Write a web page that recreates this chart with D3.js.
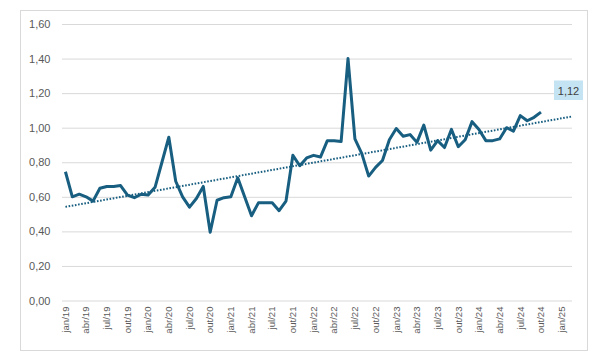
<!DOCTYPE html>
<html><head><meta charset="utf-8">
<script src="https://cdn.jsdelivr.net/npm/d3@7"></script>
<style>body{margin:0;background:#fff}svg{display:block}</style>
</head><body>
<svg id="c" width="608" height="360"></svg>
<script>
// ---- data ----
const monthNames = ["jan","fev","mar","abr","mai","jun","jul","ago","set","out","nov","dez"];
const years = ["19","20","21","22","23","24","25"];
// category slots: jan/19 .. fev/25
const categories = [];
years.forEach(y => monthNames.forEach(m => categories.push(m + "/" + y)));
categories.splice(74);
// monthly values jan/19 .. out/24
const values = [
  0.745, 0.600, 0.615, 0.600, 0.575, 0.650, 0.660, 0.660, 0.665, 0.610, 0.595, 0.615,
  0.610, 0.655, 0.800, 0.945, 0.690, 0.600, 0.540, 0.590, 0.660, 0.395, 0.580, 0.595,
  0.600, 0.710, 0.600, 0.490, 0.565, 0.565, 0.565, 0.520, 0.575, 0.840, 0.780, 0.825,
  0.840, 0.830, 0.925, 0.925, 0.920, 1.400, 0.935, 0.850, 0.720, 0.770, 0.810, 0.930,
  0.995, 0.950, 0.960, 0.915, 1.015, 0.870, 0.925, 0.885, 0.990, 0.890, 0.930, 1.035,
  0.990, 0.925, 0.925, 0.935, 1.000, 0.980, 1.070, 1.040, 1.060, 1.090
];
const tickLabels = ["jan/19","abr/19","jul/19","out/19","jan/20","abr/20","jul/20","out/20",
  "jan/21","abr/21","jul/21","out/21","jan/22","abr/22","jul/22","out/22","jan/23","abr/23",
  "jul/23","out/23","jan/24","abr/24","jul/24","out/24","jan/25"];
const yTicks = [0, 0.2, 0.4, 0.6, 0.8, 1.0, 1.2, 1.4, 1.6];
const calloutText = "1,12";

// ---- layout ----
const svg = d3.select("#c");
const L = 62, R = 572, T = 24, B = 300.5;
const grey = "#595959", gridC = "#d9d9d9", lineC = "#175e80";

svg.append("rect").attr("x", 20.5).attr("y", 10.5).attr("width", 567).attr("height", 340)
  .attr("fill", "#fff").attr("stroke", "#d9d9d9").attr("stroke-width", 1);

const x = d3.scaleBand().domain(categories).range([L, R]).padding(0);
const cx = c => x(c) + x.bandwidth() / 2;
const y = d3.scaleLinear().domain([0, 1.6]).range([B, T]);
const fmt = v => d3.format(".2f")(v).replace(".", ",");

// gridlines + y labels
const yAxis = d3.axisLeft(y).tickValues(yTicks).tickSize(-(R - L)).tickFormat(fmt).tickPadding(12);
const gy = svg.append("g").attr("transform", `translate(${L},0)`).call(yAxis);
gy.select(".domain").remove();
gy.selectAll(".tick line").attr("stroke", gridC).attr("stroke-width", 1);
gy.selectAll(".tick text").attr("fill", grey).attr("font-family", "Liberation Sans, Arial, sans-serif")
  .attr("font-size", 11).attr("x", -11.5);

// x labels
const xAxis = d3.axisBottom(x).tickValues(tickLabels).tickSize(0).tickPadding(0);
const gx = svg.append("g").attr("transform", `translate(0,${B})`).call(xAxis);
gx.select(".domain").remove();
gx.selectAll(".tick text")
  .attr("fill", grey).attr("font-family", "Liberation Sans, Arial, sans-serif").attr("font-size", 9.6)
  .attr("text-anchor", "end").attr("transform", "rotate(-90)")
  .attr("x", -6).attr("y", 0).attr("dy", "0.34em");

// trendline (least squares on the series, extended forward to the plot edge)
const mx = d3.mean(values, (d, i) => i), my = d3.mean(values);
let sxy = 0, sxx = 0;
values.forEach((v, i) => { sxy += (i - mx) * (v - my); sxx += (i - mx) * (i - mx); });
const slope = sxy / sxx, icpt = my - slope * mx;
const step = x.step();
const idxEnd = (R - cx(categories[0])) / step;
svg.append("line")
  .attr("x1", cx(categories[0])).attr("y1", y(icpt))
  .attr("x2", cx(categories[0]) + idxEnd * step).attr("y2", y(icpt + slope * idxEnd))
  .attr("stroke", lineC).attr("stroke-width", 2).attr("stroke-dasharray", "1.6,1.6");

// series line
const line = d3.line().x((d, i) => cx(categories[i])).y(d => y(d)).curve(d3.curveLinear);
svg.append("path").datum(values).attr("d", line).attr("fill", "none")
  .attr("stroke", lineC).attr("stroke-width", 3).attr("stroke-linejoin", "round");

// callout
const cb = svg.append("g");
cb.append("rect").attr("x", 554).attr("y", 80.5).attr("width", 29).attr("height", 19.5).attr("fill", "#c4e3f3");
cb.append("text").attr("x", 568.5).attr("y", 94.5).attr("text-anchor", "middle")
  .attr("font-family", "Liberation Sans, Arial, sans-serif").attr("font-size", 11).attr("fill", "#404040")
  .text(calloutText);
</script>
</body></html>
